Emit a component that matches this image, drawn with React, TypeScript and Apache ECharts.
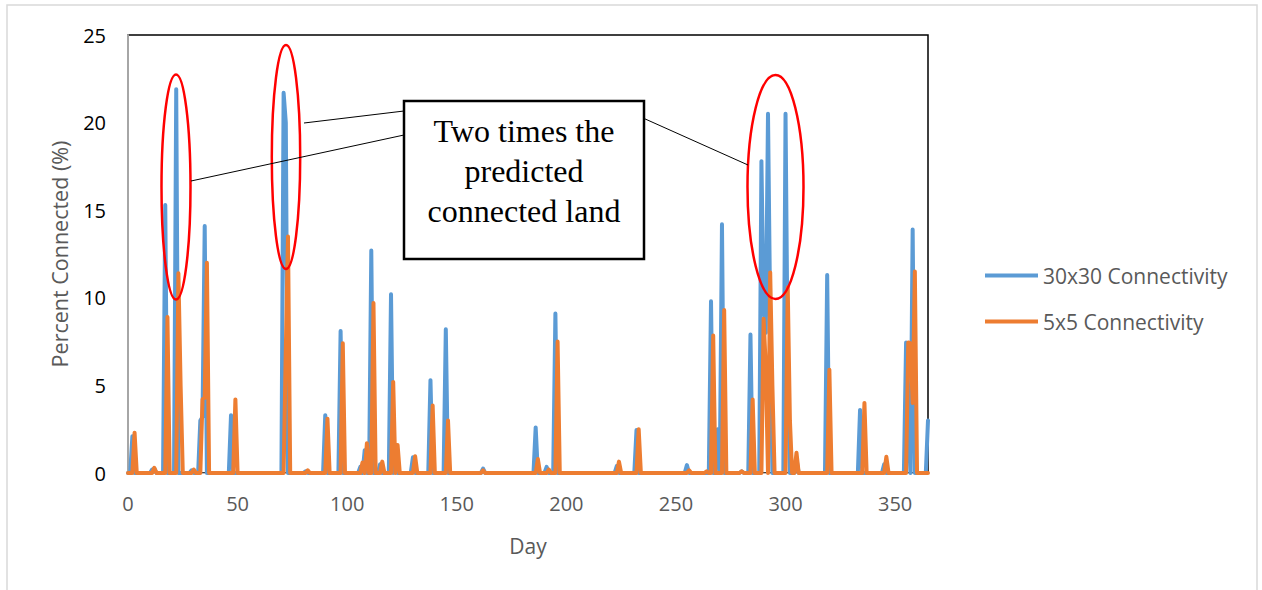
import React, { useEffect, useRef } from "react";
import * as echarts from "echarts";

// Day range of the chart (days with no listed value are 0)
const firstDay = 0;
const lastDay = 365;

// 30x30 Connectivity: days with non-zero values and their values (%)
const blueDays = [2, 11, 12, 17, 22, 29, 33, 34, 35, 47, 71, 72, 81, 90, 97, 106, 108, 111, 115, 120, 122, 130, 138, 145, 162, 186, 191, 195, 223, 232, 255, 266, 269, 271, 280, 284, 289, 290, 291, 292, 293, 300, 301, 305, 319, 334, 345, 355, 356, 358, 365];
const blueValues = [2.1, 0.2, 0.25, 15.3, 21.9, 0.15, 3.0, 3.2, 14.1, 3.3, 21.7, 20.0, 0.1, 3.3, 8.1, 0.35, 1.3, 12.7, 0.5, 10.2, 1.2, 0.9, 5.3, 8.2, 0.25, 2.6, 0.35, 9.1, 0.4, 2.45, 0.45, 9.8, 2.5, 14.2, 0.1, 7.9, 17.8, 9.5, 8.0, 20.5, 9.0, 20.5, 6.0, 0.8, 11.3, 3.6, 0.5, 7.45, 3.0, 13.9, 3.0];

// 5x5 Connectivity
const orangeDays = [3, 12, 18, 23, 24, 30, 34, 35, 36, 49, 72, 73, 82, 91, 98, 107, 109, 112, 116, 121, 123, 131, 139, 146, 162, 187, 192, 196, 224, 233, 256, 264, 267, 272, 280, 285, 290, 291, 293, 294, 301, 302, 305, 320, 336, 346, 356, 357, 358, 359];
const orangeValues = [2.3, 0.3, 8.9, 11.4, 5.0, 0.2, 4.2, 4.3, 12.0, 4.2, 7.0, 13.5, 0.15, 3.1, 7.4, 0.6, 1.7, 9.7, 0.65, 5.2, 1.6, 0.95, 3.85, 3.0, 0.15, 0.8, 0.2, 7.5, 0.65, 2.5, 0.15, 0.1, 7.85, 9.3, 0.1, 4.2, 8.8, 6.0, 11.45, 5.0, 10.6, 3.0, 1.16, 5.9, 4.0, 0.93, 7.45, 7.4, 4.0, 11.5];

const seriesNames = ["30x30 Connectivity", "5x5 Connectivity"];
const seriesColors = ["#5b9bd5", "#ed7d31"];

const annotationText = "Two times the\npredicted\nconnected land";

function buildDaily(days: number[], values: number[]): [number, number][] {
  const map = new Map<number, number>();
  days.forEach((d, i) => map.set(d, values[i]));
  const out: [number, number][] = [];
  for (let d = firstDay; d <= lastDay; d++) out.push([d, map.get(d) ?? 0]);
  return out;
}

export default function App() {
  const ref = useRef<HTMLDivElement>(null);
  useEffect(() => {
    if (!ref.current) return;
    const chart = echarts.init(ref.current, null, { renderer: "svg" });
    const font = "'Open Sans', sans-serif";
    chart.setOption({
      animation: false,
      backgroundColor: "#ffffff",
      textStyle: { fontFamily: font },
      grid: {
        left: 128,
        right: 334,
        top: 35,
        bottom: 117,
        show: true,
        borderColor: "#000000",
        borderWidth: 1.5,
        backgroundColor: "transparent",
      },
      xAxis: {
        type: "value",
        min: firstDay,
        max: lastDay,
        interval: 50,
        name: "Day",
        nameLocation: "middle",
        nameGap: 62,
        nameTextStyle: { color: "#595959", fontSize: 21, fontFamily: font },
        axisLine: { show: true, lineStyle: { color: "#bfbfbf", width: 1 } },
        axisTick: { show: false },
        splitLine: { show: false },
        axisLabel: { color: "#595959", fontSize: 20, margin: 20, showMaxLabel: false, fontFamily: font },
      },
      yAxis: {
        type: "value",
        min: 0,
        max: 25,
        interval: 5,
        name: "Percent Connected (%)",
        nameLocation: "middle",
        nameGap: 58,
        nameTextStyle: { color: "#595959", fontSize: 21.5, fontFamily: font },
        axisLine: { show: true, lineStyle: { color: "#a6a6a6", width: 2 } },
        axisTick: { show: false },
        splitLine: { show: false },
        axisLabel: { color: "#000000", fontSize: 20, margin: 22, fontFamily: font },
      },
      legend: {
        orient: "vertical",
        left: 985,
        top: 265,
        padding: 0,
        icon: "rect",
        itemWidth: 53,
        itemHeight: 4,
        itemGap: 25,
        textStyle: { color: "#595959", fontSize: 21, fontFamily: font, lineHeight: 21, padding: [0, 0, 0, 0] },
        data: seriesNames,
      },
      series: [
        {
          name: seriesNames[0],
          type: "line",
          data: buildDaily(blueDays, blueValues),
          symbol: "none",
          color: seriesColors[0],
          lineStyle: { width: 4, color: seriesColors[0], cap: "round", join: "round" },
          z: 2,
        },
        {
          name: seriesNames[1],
          type: "line",
          data: buildDaily(orangeDays, orangeValues),
          symbol: "none",
          color: seriesColors[1],
          lineStyle: { width: 4, color: seriesColors[1], cap: "round", join: "round" },
          z: 3,
        },
      ],
      graphic: [
        {
          type: "rect",
          z: -10,
          silent: true,
          shape: { x: 7, y: 5, width: 1250, height: 600 },
          style: { fill: "none", stroke: "#d9d9d9", lineWidth: 1.5 },
        },
        {
          type: "ellipse",
          z: 100,
          shape: { cx: 176, cy: 187, rx: 14.5, ry: 112.5 },
          style: { fill: "none", stroke: "#ff0000", lineWidth: 2.5 },
        },
        {
          type: "ellipse",
          z: 100,
          shape: { cx: 286, cy: 157, rx: 14.2, ry: 112 },
          style: { fill: "none", stroke: "#ff0000", lineWidth: 2.5 },
        },
        {
          type: "ellipse",
          z: 100,
          shape: { cx: 775.5, cy: 187, rx: 28, ry: 112 },
          style: { fill: "none", stroke: "#ff0000", lineWidth: 2.5 },
        },
        {
          type: "line",
          z: 100,
          shape: { x1: 304, y1: 123, x2: 404, y2: 111 },
          style: { stroke: "#000000", lineWidth: 1 },
        },
        {
          type: "line",
          z: 100,
          shape: { x1: 191, y1: 181, x2: 404, y2: 135 },
          style: { stroke: "#000000", lineWidth: 1 },
        },
        {
          type: "line",
          z: 100,
          shape: { x1: 643, y1: 118, x2: 748, y2: 165 },
          style: { stroke: "#000000", lineWidth: 1 },
        },
        {
          type: "rect",
          z: 101,
          shape: { x: 404, y: 101, width: 240, height: 158 },
          style: { fill: "#ffffff", stroke: "#000000", lineWidth: 2.5 },
        },
        {
          type: "text",
          z: 102,
          x: 524,
          y: 171,
          style: {
            text: annotationText,
            font: "32px 'Liberation Serif', 'Times New Roman', serif",
            fill: "#000000",
            align: "center",
            verticalAlign: "middle",
            lineHeight: 40,
          },
        },
      ],
    });
    return () => chart.dispose();
  }, []);
  return (
    <div
      ref={ref}
      style={{ position: "fixed", left: 0, top: 0, width: 1262, height: 590, background: "#fff" }}
    />
  );
}
